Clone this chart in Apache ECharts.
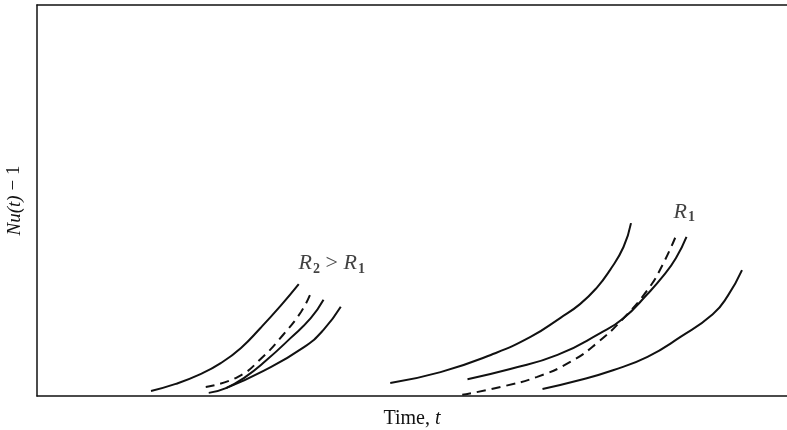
<!DOCTYPE html>
<html>
<head>
<meta charset="utf-8">
<script src="https://cdn.jsdelivr.net/npm/echarts@6/dist/echarts.min.js"></script>
<style>
  html, body { margin: 0; padding: 0; background: #fff; }
  #chart { width: 787px; height: 430px; }
</style>
</head>
<body>
<div id="chart"></div>
<script>
// curves, in arbitrary units (time 0-100, Nu-1 0-100)
// left group (R2 > R1)
var curveA = [[15.2, 1.3], [18.5, 3.1], [21.8, 5.6], [24.5, 8.4], [27.2, 12.3], [29.8, 17.4], [32.5, 23.1], [34.9, 28.6]];
var curveB = [[22.5, 2.3], [26.8, 4.9], [30.1, 10.0], [32.8, 15.6], [35.2, 21.5], [36.5, 26.3]]; // dashed
var curveC = [[22.9, 0.8], [25.2, 2.0], [27.8, 4.9], [30.5, 9.0], [33.8, 14.8], [36.5, 19.9], [38.2, 24.6]];
var curveD = [[25.2, 2.0], [30.2, 6.4], [35.6, 12.5], [38.2, 16.9], [40.5, 22.8]];
// right group (R1)
var curveE = [[47.1, 3.3], [53.8, 6.1], [60.5, 10.5], [65.8, 15.1], [69.8, 20.0], [72.4, 23.5], [74.6, 27.6], [76.4, 32.2], [78.2, 38.1], [79.2, 44.2]];
var curveF = [[57.4, 4.3], [63.1, 6.9], [69.4, 10.5], [75.1, 16.1], [78.2, 19.9], [81.4, 26.1], [83.5, 30.7], [85.2, 35.3], [86.6, 40.7]];
var curveG = [[56.7, 0.3], [61.8, 2.3], [66.7, 4.9], [71.1, 8.7], [74.7, 13.6], [78.2, 19.9], [81.4, 27.1], [83.4, 33.5], [85.4, 41.9]]; // dashed
var curveH = [[67.4, 1.8], [72.4, 4.1], [76.8, 6.6], [81.4, 10.0], [85.8, 15.1], [90.1, 20.9], [92.1, 25.6], [94.0, 32.2]];

var labelPoints = [
  [39.3, 34.0, '{i|R}{s|2}{o| > }{i|R}{s|1}'],
  [86.3, 47.1, '{i|R}{s|1}']
];

var ink = '#111';
var serif = '"Liberation Serif", "DejaVu Serif", serif';

function curve(name, data, dashed) {
  return {
    name: name,
    type: 'line',
    data: data,
    smooth: true,
    symbol: 'none',
    silent: true,
    lineStyle: { color: ink, width: 2, type: dashed ? [9, 6] : 'solid' }
  };
}

var richText = {
  i: { fontStyle: 'italic', fontSize: 22, fontFamily: serif, color: ink, lineHeight: 26, verticalAlign: 'middle' },
  s: { fontSize: 14, fontWeight: 'bold', fontFamily: serif, color: ink, lineHeight: 26, verticalAlign: 'bottom', padding: [0, 0, 0, 1] },
  o: { fontSize: 22, fontFamily: serif, color: ink, lineHeight: 26, verticalAlign: 'middle' }
};

var options = {
  animation: false,
  grid: { left: 37, right: 0, top: 5, bottom: 34, outerBoundsMode: 'none' },
  xAxis: [{
    type: 'value',
    min: 0,
    max: 100,
    name: 'Time, {i|t}',
    nameLocation: 'middle',
    nameGap: 13,
    nameTextStyle: {
      fontFamily: serif, fontSize: 20, color: ink,
      rich: { i: { fontStyle: 'italic', fontFamily: serif, fontSize: 20, color: ink } }
    },
    axisLine: { show: true, lineStyle: { color: ink, width: 1.5 } },
    axisTick: { show: false },
    axisLabel: { show: false },
    splitLine: { show: false }
  }, {
    type: 'value',
    position: 'top',
    min: 0,
    max: 100,
    axisLine: { show: true, lineStyle: { color: ink, width: 1.5 } },
    axisTick: { show: false },
    axisLabel: { show: false },
    splitLine: { show: false }
  }],
  yAxis: {
    type: 'value',
    min: 0,
    max: 100,
    name: '{i|Nu(t)} \u2212 1',
    nameLocation: 'middle',
    nameRotate: 90,
    nameGap: 13,
    nameTextStyle: {
      fontFamily: serif, fontSize: 19, color: ink,
      rich: { i: { fontStyle: 'italic', fontFamily: serif, fontSize: 19, color: ink } }
    },
    axisLine: { show: true, lineStyle: { color: ink, width: 1.5 } },
    axisTick: { show: false },
    axisLabel: { show: false },
    splitLine: { show: false }
  },
  series: [
    curve('A', curveA, false),
    curve('B', curveB, true),
    curve('C', curveC, false),
    curve('D', curveD, false),
    curve('E', curveE, false),
    curve('F', curveF, false),
    curve('G', curveG, true),
    curve('H', curveH, false),
    {
      type: 'scatter',
      data: labelPoints,
      symbolSize: 0,
      silent: true,
      label: {
        show: true,
        position: 'inside',
        color: ink,
        textBorderWidth: 0,
        fontSize: 22,
        fontFamily: serif,
        formatter: function (p) { return p.data[2]; },
        rich: richText
      }
    }
  ]
};

var chart = echarts.init(document.getElementById('chart'));
chart.setOption(options);
</script>
</body>
</html>
